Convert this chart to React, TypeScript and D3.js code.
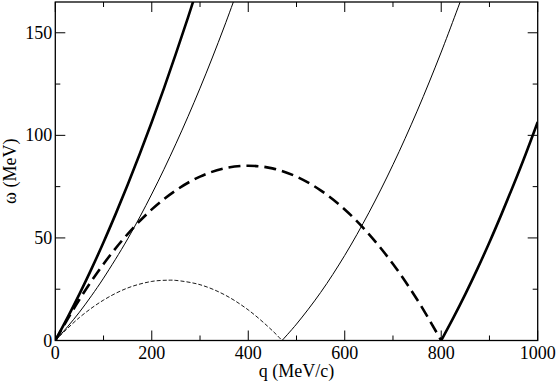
import React, { useRef, useEffect } from 'react';
import * as d3 from 'd3';

// q (MeV/c) and omega (MeV)
const thickUpperQ = [0, 25, 50, 75, 100, 125, 150, 175, 200, 225, 250, 275, 300];
const thickUpperW = [0, 11.0, 22.6, 34.9, 47.9, 61.6, 75.9, 90.9, 106.5, 122.8, 139.8, 157.4, 175.7];

const thickDashQ = [0, 50, 100, 150, 200, 250, 300, 350, 400, 450, 500, 550, 600, 650, 700, 750, 800];
const thickDashW = [0, 20.0, 37.3, 51.9, 63.9, 73.2, 79.9, 83.9, 85.2, 83.9, 79.9, 73.2, 63.9, 51.9, 37.3, 20.0, 0];

const thickLowerQ = [800, 825, 850, 875, 900, 925, 950, 975, 1000];
const thickLowerW = [0, 11.0, 22.6, 34.9, 47.9, 61.6, 75.9, 90.8, 106.5];

const thinUpperQ = [0, 25, 50, 75, 100, 150, 200, 250, 300, 350, 400];
const thinUpperW = [0, 6.6, 13.8, 21.8, 30.4, 49.5, 71.4, 95.9, 123.0, 152.8, 185.3];

const thinDashQ = [0, 50, 100, 150, 200, 235, 250, 300, 350, 400, 450, 470];
const thinDashW = [0, 11.2, 19.7, 25.6, 28.8, 29.4, 29.3, 27.2, 22.4, 14.9, 4.8, 0];

const thinLowerQ = [470, 500, 550, 600, 650, 700, 750, 800, 850];
const thinLowerW = [0, 8.0, 23.4, 41.5, 62.3, 85.7, 111.8, 140.6, 171.9];

const xMajor = [0, 200, 400, 600, 800, 1000];
const xMinor = [100, 300, 500, 700, 900];
const yMajor = [0, 50, 100, 150];
const yMinor = [25, 75, 125];

const W = 558;
const H = 382;
const margin = { top: 2, right: 20.3, bottom: 41.5, left: 55.3 };

const App = () => {
  const svgRef = useRef(null);

  useEffect(() => {
    const svg = d3.select(svgRef.current);
    svg.selectAll('*').remove();

    const x = d3.scaleLinear().domain([0, 1000]).range([margin.left, W - margin.right]);
    const y = d3.scaleLinear().domain([0, 165]).range([H - margin.bottom, margin.top]);
    const font = "'Liberation Serif', 'Nimbus Roman', 'FreeSerif', 'DejaVu Serif', 'Noto Serif', 'Times New Roman', Times, serif";

    svg.append('defs').append('clipPath').attr('id', 'plot-clip')
      .append('rect')
      .attr('x', x(0)).attr('y', y(165))
      .attr('width', x(1000) - x(0)).attr('height', y(0) - y(165));

    const line = d3.line()
      .x(d => x(d[0]))
      .y(d => y(d[1]))
      .curve(d3.curveCatmullRom);

    const series = [
      { q: thickUpperQ, w: thickUpperW, width: 2.6, dash: null },
      { q: thickDashQ, w: thickDashW, width: 2.6, dash: '12,6' },
      { q: thickLowerQ, w: thickLowerW, width: 2.6, dash: null },
      { q: thinUpperQ, w: thinUpperW, width: 1, dash: null },
      { q: thinDashQ, w: thinDashW, width: 0.9, dash: '4,2' },
      { q: thinLowerQ, w: thinLowerW, width: 1, dash: null },
    ];

    const g = svg.append('g').attr('clip-path', 'url(#plot-clip)');
    series.forEach(s => {
      g.append('path')
        .datum(s.q.map((q, i) => [q, s.w[i]]))
        .attr('fill', 'none')
        .attr('stroke', 'black')
        .attr('stroke-width', s.width)
        .attr('stroke-dasharray', s.dash)
        .attr('d', line);
    });

    // frame
    svg.append('rect')
      .attr('x', x(0)).attr('y', y(165))
      .attr('width', x(1000) - x(0)).attr('height', y(0) - y(165))
      .attr('fill', 'none').attr('stroke', 'black').attr('stroke-width', 1.3);

    // inward ticks on all four sides
    const ticks = svg.append('g').attr('stroke', 'black').attr('stroke-width', 1);
    const xt = xMajor.map(v => [v, 10]).concat(xMinor.map(v => [v, 5]));
    xt.forEach(([v, len]) => {
      ticks.append('line').attr('x1', x(v)).attr('x2', x(v)).attr('y1', y(0)).attr('y2', y(0) - len);
      ticks.append('line').attr('x1', x(v)).attr('x2', x(v)).attr('y1', y(165)).attr('y2', y(165) + len);
    });
    const yt = yMajor.map(v => [v, 10]).concat(yMinor.map(v => [v, 5]));
    yt.forEach(([v, len]) => {
      ticks.append('line').attr('y1', y(v)).attr('y2', y(v)).attr('x1', x(0)).attr('x2', x(0) + len);
      ticks.append('line').attr('y1', y(v)).attr('y2', y(v)).attr('x1', x(1000)).attr('x2', x(1000) - len);
    });

    svg.append('g').selectAll('text').data(xMajor).join('text')
      .attr('x', d => x(d)).attr('y', y(0) + 18)
      .attr('text-anchor', 'middle')
      .style('font-family', font).style('font-size', '18px')
      .text(d => d);

    svg.append('g').selectAll('text').data(yMajor).join('text')
      .attr('x', x(0) - 3).attr('y', d => y(d) + 6)
      .attr('text-anchor', 'end')
      .style('font-family', font).style('font-size', '18px')
      .text(d => d);

    svg.append('text')
      .attr('x', (x(0) + x(1000)) / 2).attr('y', 377)
      .attr('text-anchor', 'middle')
      .style('font-family', font).style('font-size', '18px')
      .text('q (MeV/c)');

    svg.append('text')
      .attr('transform', `translate(16, ${(y(0) + y(165)) / 2}) rotate(-90)`)
      .attr('text-anchor', 'middle')
      .style('font-family', font).style('font-size', '18px')
      .text('ω (MeV)');
  }, []);

  return (
    <svg ref={svgRef} width={W} height={H}
      style={{ position: 'absolute', left: 0, top: 0, background: 'white' }} />
  );
};

export default App;
